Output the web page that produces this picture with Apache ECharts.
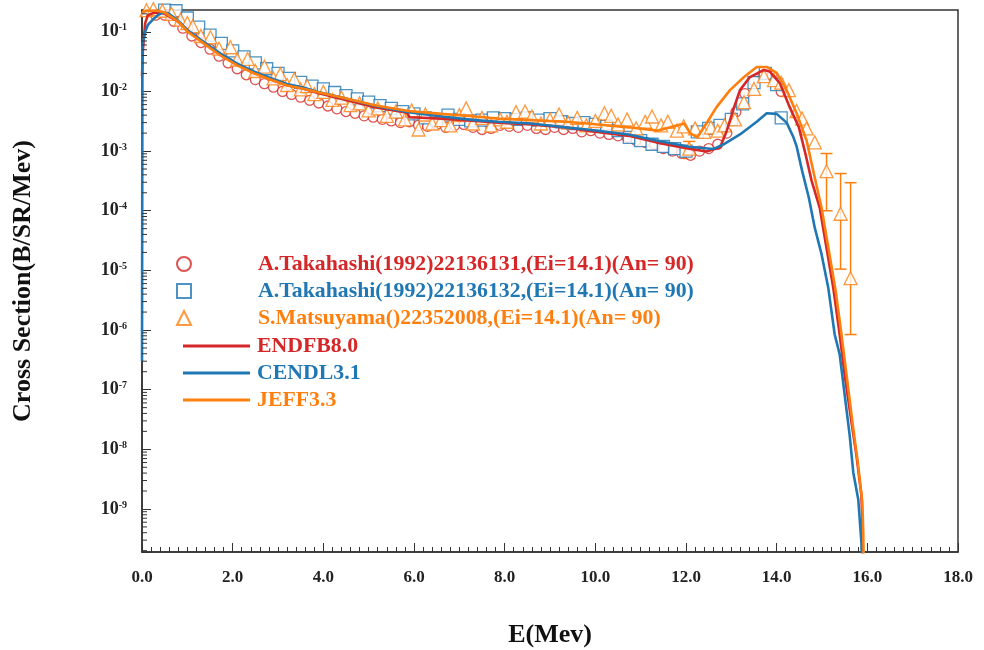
<!DOCTYPE html>
<html>
<head>
<meta charset="utf-8">
<script src="https://cdn.jsdelivr.net/npm/echarts@6/dist/echarts.min.js"></script>
<style>html,body{margin:0;padding:0;background:#fff}#c{width:984px;height:650px}</style>
</head>
<body>
<div id="c"></div>
<script>
// ---------------- data ----------------
const seriesNames = [
  'A.Takahashi(1992)22136131,(Ei=14.1)(An= 90)',
  'A.Takahashi(1992)22136132,(Ei=14.1)(An= 90)',
  'S.Matsuyama()22352008,(Ei=14.1)(An= 90)',
  'ENDFB8.0',
  'CENDL3.1',
  'JEFF3.3'
];
const xTickLabels = ['0.0','2.0','4.0','6.0','8.0','10.0','12.0','14.0','16.0','18.0'];
const yDecades = [-10,-9,-8,-7,-6,-5,-4,-3,-2,-1];

const takahashi131 = [
 [0.30,0.19],[0.50,0.19],[0.70,0.15],[0.90,0.115],[1.10,0.085],[1.30,0.066],[1.50,0.051],[1.70,0.039],
 [1.90,0.030],[2.10,0.024],[2.30,0.019],[2.50,0.0158],[2.70,0.0135],[2.90,0.0118],[3.10,0.0100],[3.30,0.0089],
 [3.50,0.0080],[3.70,0.0071],[3.90,0.0064],[4.10,0.0057],[4.30,0.0051],[4.50,0.0046],[4.70,0.0043],[4.90,0.0039],
 [5.10,0.0037],[5.30,0.0034],[5.50,0.0032],[5.70,0.0030],[5.90,0.0031],[6.10,0.0027],[6.30,0.0026],[6.50,0.0028],
 [6.70,0.0025],[6.90,0.0027],[7.10,0.0028],[7.30,0.0025],[7.50,0.0023],[7.70,0.0024],[7.90,0.0027],[8.10,0.0026],
 [8.30,0.0025],[8.50,0.0027],[8.70,0.0024],[8.90,0.0023],[9.10,0.0025],[9.30,0.0023],[9.50,0.0024],[9.70,0.0021],
 [9.90,0.0022],[10.10,0.0020],[10.30,0.0019],[10.50,0.0018],[10.70,0.0017],[10.90,0.0015],[11.10,0.0014],[11.30,0.0013],
 [11.50,0.0011],[11.70,0.0010],[11.90,0.00092],[12.10,0.00085],[12.30,0.0010],[12.50,0.0011],[12.70,0.0013],[12.90,0.0020],
 [13.10,0.0045],[13.30,0.0092],[13.50,0.0150],[13.70,0.0190],[13.90,0.0180],[14.10,0.0100]
];
const takahashi132 = [
 [0.50,0.23],[0.75,0.225],[1.00,0.17],[1.25,0.12],[1.50,0.088],[1.75,0.064],[2.00,0.048],[2.25,0.038],
 [2.50,0.030],[2.75,0.024],[3.00,0.020],[3.25,0.0165],[3.50,0.0142],[3.75,0.0123],[4.00,0.0110],[4.25,0.0096],
 [4.50,0.0085],[4.75,0.0075],[5.00,0.0066],[5.25,0.0058],[5.50,0.0052],[5.75,0.0046],[6.00,0.0042],[6.25,0.0036],
 [6.50,0.0033],[6.75,0.0040],[7.00,0.0034],[7.25,0.0032],[7.50,0.0033],[7.75,0.0036],[8.00,0.0035],[8.25,0.0034],
 [8.50,0.0036],[8.75,0.0033],[9.00,0.0035],[9.25,0.0031],[9.50,0.0029],[9.75,0.0030],[10.00,0.0028],[10.25,0.0026],
 [10.50,0.0022],[10.75,0.0017],[11.00,0.0015],[11.25,0.0013],[11.50,0.0012],[11.75,0.0011],[12.00,0.0010],[12.25,0.0021],
 [12.50,0.0024],[12.75,0.0027],[13.00,0.0034],[13.25,0.0062],[13.50,0.0140],[13.75,0.0200],[14.00,0.0130],[14.10,0.0036]
];
const matsuyama = [
 [0.10,0.23],[0.25,0.24],[0.45,0.225],[0.65,0.20],[0.85,0.16],[1.00,0.14],[1.12,0.124],[1.30,0.085],
 [1.51,0.081],[1.70,0.052],[1.95,0.055],[2.10,0.034],[2.33,0.035],[2.50,0.022],[2.70,0.026],[2.90,0.0165],
 [3.05,0.0195],[3.20,0.0128],[3.36,0.016],[3.50,0.0108],[3.64,0.0123],[3.80,0.0090],[4.00,0.0098],[4.20,0.0072],
 [4.40,0.0079],[4.60,0.0059],[4.80,0.0063],[5.00,0.0048],[5.20,0.0052],[5.40,0.0039],[5.60,0.0046],[5.80,0.0034],
 [5.95,0.0048],[6.10,0.0023],[6.25,0.0041],[6.40,0.0029],[6.60,0.0033],[6.80,0.0027],[7.00,0.0040],[7.15,0.0052],
 [7.30,0.0029],[7.50,0.0036],[7.70,0.0027],[7.90,0.0034],[8.05,0.0031],[8.25,0.0045],[8.45,0.0046],[8.60,0.0038],
 [8.80,0.0029],[9.00,0.0034],[9.20,0.0041],[9.40,0.0030],[9.60,0.0036],[9.80,0.0027],[10.00,0.0032],[10.20,0.0043],
 [10.35,0.0039],[10.50,0.0028],[10.70,0.0034],[10.90,0.0024],[11.10,0.0031],[11.25,0.0038],[11.45,0.0027],[11.60,0.0031],
 [11.80,0.0022],[11.95,0.0026],[12.07,0.0011],[12.20,0.0024],[12.40,0.0021],[12.55,0.0025],[12.70,0.0022],[12.85,0.0027],
 [13.08,0.0034],[13.28,0.0066],[13.50,0.011],[13.72,0.018],[13.94,0.0155],[14.10,0.014],[14.27,0.0105],[14.44,0.0047],
 [14.56,0.0035],[14.66,0.0024],[14.84,0.0014],[15.10,0.00046],[15.41,0.000089],[15.63,0.0000074]
];
// [E, lower, upper]
const matsuyamaErrors = [
 [12.07,0.00075,0.00145],[15.10,0.0001,0.00091],[15.41,0.0000105,0.00042],[15.63,0.00000084,0.000295]
];
const endfb80 = [
 [0.00,0.018],[0.02,0.05],[0.07,0.14],[0.13,0.19],[0.24,0.205],[0.35,0.21],[0.50,0.20],[0.79,0.15],
 [1.01,0.105],[1.38,0.065],[1.73,0.042],[2.11,0.028],[2.48,0.0205],[2.83,0.016],[3.20,0.0127],[3.58,0.011],
 [3.86,0.0095],[4.41,0.0075],[5.16,0.0054],[5.85,0.0044],[5.90,0.0037],[6.61,0.0035],[7.35,0.0032],[7.86,0.0030],
 [8.58,0.0028],[9.33,0.0025],[9.82,0.0022],[10.74,0.0018],[11.34,0.0014],[12.07,0.0011],[12.45,0.00098],[12.75,0.00115],
 [12.90,0.0022],[13.06,0.0054],[13.19,0.0105],[13.41,0.0174],[13.72,0.0229],[13.85,0.0215],[14.07,0.0138],[14.29,0.0054],
 [14.49,0.0025],[14.62,0.0010],[14.77,0.00032],[14.95,0.000112],[15.10,0.0000237],[15.25,0.000005],[15.39,8.4e-7],[15.50,1.78e-7],
 [15.65,2.86e-8],[15.76,7.9e-9],[15.87,1.68e-9],[15.89,5.9e-10],[15.90,1.2e-10]
];
const cendl31 = [
 [0.00,3e-7],[0.01,0.06],[0.07,0.10],[0.13,0.13],[0.24,0.16],[0.35,0.19],[0.45,0.21],[0.57,0.205],
 [0.79,0.155],[1.01,0.105],[1.38,0.066],[1.73,0.043],[2.11,0.029],[2.48,0.0215],[2.83,0.0168],[3.20,0.0133],
 [3.58,0.0115],[3.86,0.0099],[4.41,0.0079],[5.16,0.0057],[5.88,0.0045],[6.61,0.0038],[7.35,0.0033],[7.86,0.0031],
 [8.58,0.0029],[9.33,0.0025],[9.82,0.0023],[10.74,0.0019],[11.34,0.0015],[12.07,0.00118],[12.60,0.00108],[12.83,0.0013],
 [13.19,0.0019],[13.56,0.0031],[13.78,0.0043],[14.00,0.0042],[14.22,0.0030],[14.37,0.0017],[14.44,0.0012],[14.56,0.00047],
 [14.71,0.000165],[14.84,0.000052],[14.99,0.0000187],[15.14,0.000005],[15.28,8.4e-7],[15.39,3.9e-7],[15.50,8.2e-8],[15.61,1.73e-8],
 [15.69,4.1e-9],[15.80,1.44e-9],[15.87,2.7e-10],[15.88,1.2e-10]
];
const jeff33 = [
 [0.00,0.21],[0.10,0.225],[0.35,0.225],[0.50,0.21],[0.79,0.15],[1.01,0.10],[1.38,0.062],[1.73,0.040],
 [2.11,0.027],[2.48,0.020],[2.83,0.0158],[3.20,0.0126],[3.58,0.011],[3.86,0.0098],[4.41,0.0079],[5.16,0.0058],
 [5.88,0.0047],[6.61,0.0042],[7.35,0.0038],[7.86,0.0035],[8.58,0.0033],[9.33,0.0031],[9.82,0.0029],[10.74,0.0025],
 [11.37,0.0022],[11.65,0.0025],[11.96,0.0029],[12.09,0.0020],[12.25,0.0017],[12.45,0.0029],[12.67,0.0054],[12.97,0.0105],
 [13.28,0.0174],[13.56,0.0257],[13.78,0.0257],[14.00,0.0204],[14.22,0.0105],[14.44,0.0043],[14.66,0.0015],[14.82,0.00042],
 [14.99,0.000112],[15.14,0.000024],[15.30,0.0000046],[15.43,8.4e-7],[15.54,1.8e-7],[15.67,2.9e-8],[15.79,6e-9],[15.89,1.3e-9],
 [15.91,4e-10],[15.92,1.2e-10]
];

// ---------------- chart ----------------
const SERIF = '"Liberation Serif","Times New Roman",serif';
const RED = '#d62728', BLUE = '#1f77b4', ORANGE = '#ff7f0e';
const Y_MIN = 1.9e-10, Y_MAX = 0.2317;

const yMinorTicks = [];
yDecades.forEach(function (d) {
  for (let k = 2; k <= 9; k++) {
    const v = k * Math.pow(10, d);
    if (v > Y_MIN && v < Y_MAX) yMinorTicks.push([0, v]);
  }
});

const chart = echarts.init(document.getElementById('c'), null, { renderer: 'canvas' });
const legendText = { fontFamily: SERIF, fontWeight: 'bold', fontSize: 21.8 };

chart.setOption({
  animation: false,
  backgroundColor: '#fff',
  grid: { left: 142, right: 26, top: 10, bottom: 98, show: true, borderColor: '#333', borderWidth: 1.5, outerBoundsMode: 'none' },
  xAxis: {
    type: 'value', min: 0, max: 18, interval: 2,
    name: 'E(Mev)', nameLocation: 'middle', nameGap: 70,
    nameTextStyle: { fontFamily: SERIF, fontWeight: 'bold', fontSize: 26, color: '#111' },
    axisLine: { lineStyle: { color: '#333', width: 1.5 } },
    axisTick: { inside: true, length: 9, lineStyle: { color: '#333', width: 1 } },
    minorTick: { show: true, splitNumber: 10, length: 5, lineStyle: { color: '#333', width: 1 } },
    splitLine: { show: false },
    axisLabel: {
      margin: 17, fontFamily: SERIF, fontWeight: 'bold', fontSize: 17, color: '#222',
      formatter: function (v) { const i = Math.round(v / 2); return xTickLabels[i] !== undefined ? xTickLabels[i] : ''; }
    }
  },
  yAxis: {
    type: 'log', logBase: 10, min: Y_MIN, max: Y_MAX, splitNumber: 9,
    name: 'Cross Section(B/SR/Mev)', nameLocation: 'middle', nameGap: 106,
    nameTextStyle: { fontFamily: SERIF, fontWeight: 'bold', fontSize: 26, color: '#111' },
    axisLine: { lineStyle: { color: '#333', width: 1.5 } },
    axisTick: { inside: true, length: 9, lineStyle: { color: '#333', width: 1 } },
    minorTick: { show: false },
    splitLine: { show: false },
    axisLabel: {
      margin: 15, color: '#222',
      formatter: function (v) {
        const l = Math.log10(v), e = Math.round(l);
        if (Math.abs(l - e) > 1e-6) return '';
        return '{b|10}{s|' + e + '}';
      },
      rich: {
        b: { fontFamily: SERIF, fontWeight: 'bold', fontSize: 18, color: '#222' },
        s: { fontFamily: SERIF, fontWeight: 'bold', fontSize: 10, color: '#222', verticalAlign: 'top' }
      }
    }
  },
  legend: [
    {
      orient: 'vertical', left: 171, top: 248, itemWidth: 14, itemHeight: 14, itemGap: 5,
      selectedMode: false,
      textStyle: Object.assign({ padding: [0, 0, 0, 62] }, legendText),
      data: [
        { name: seriesNames[0], textStyle: { color: RED } },
        { name: seriesNames[1], textStyle: { color: BLUE } },
        { name: seriesNames[2], textStyle: { color: ORANGE } }
      ]
    },
    {
      orient: 'vertical', left: 178, top: 330, itemWidth: 67, itemHeight: 3, itemGap: 5,
      selectedMode: false,
      textStyle: Object.assign({ padding: [0, 0, 0, 2] }, legendText),
      data: [
        { name: seriesNames[3], icon: 'rect', textStyle: { color: RED } },
        { name: seriesNames[4], icon: 'rect', textStyle: { color: BLUE } },
        { name: seriesNames[5], icon: 'rect', textStyle: { color: ORANGE } }
      ]
    }
  ],
  series: [
    {
      name: seriesNames[0], type: 'scatter', data: takahashi131, symbol: 'circle', symbolSize: 10, clip: false, z: 2,
      itemStyle: { color: '#fff', borderColor: RED, borderWidth: 1.3 }
    },
    {
      name: seriesNames[1], type: 'scatter', data: takahashi132, symbol: 'rect', symbolSize: 12, clip: false, z: 2,
      itemStyle: { color: '#fff', borderColor: BLUE, borderWidth: 1.3 }
    },
    {
      name: 'errbars', type: 'custom', data: matsuyamaErrors, encode: { x: 0, y: [1, 2] }, z: 2, silent: true,
      renderItem: function (params, api) {
        const x = api.value(0);
        const lo = api.coord([x, api.value(1)]);
        const hi = api.coord([x, api.value(2)]);
        const cap = 6;
        const st = { stroke: ORANGE, lineWidth: 1.5 };
        return { type: 'group', children: [
          { type: 'line', shape: { x1: lo[0], y1: lo[1], x2: hi[0], y2: hi[1] }, style: st },
          { type: 'line', shape: { x1: lo[0] - cap, y1: lo[1], x2: lo[0] + cap, y2: lo[1] }, style: st },
          { type: 'line', shape: { x1: hi[0] - cap, y1: hi[1], x2: hi[0] + cap, y2: hi[1] }, style: st }
        ] };
      }
    },
    {
      name: seriesNames[2], type: 'scatter', data: matsuyama, symbol: 'triangle', symbolSize: 13, clip: false, z: 2,
      itemStyle: { color: '#fff', borderColor: ORANGE, borderWidth: 1.3 }
    },
    {
      name: seriesNames[3], type: 'line', data: endfb80, symbol: 'none', z: 3,
      lineStyle: { color: RED, width: 2.6 }, itemStyle: { color: RED }
    },
    {
      name: seriesNames[4], type: 'line', data: cendl31, symbol: 'none', z: 3,
      lineStyle: { color: BLUE, width: 2.6 }, itemStyle: { color: BLUE }
    },
    {
      name: seriesNames[5], type: 'line', data: jeff33, symbol: 'none', z: 3,
      lineStyle: { color: ORANGE, width: 2.6 }, itemStyle: { color: ORANGE }
    },
    {
      name: 'yMinorTicks', type: 'custom', data: yMinorTicks, encode: { x: 0, y: 1 }, z: 4, silent: true, clip: false,
      renderItem: function (params, api) {
        const p = api.coord([0, api.value(1)]);
        return { type: 'line', shape: { x1: p[0], y1: p[1], x2: p[0] + 5, y2: p[1] }, style: { stroke: '#333', lineWidth: 1 } };
      }
    }
  ]
});
</script>
</body>
</html>
